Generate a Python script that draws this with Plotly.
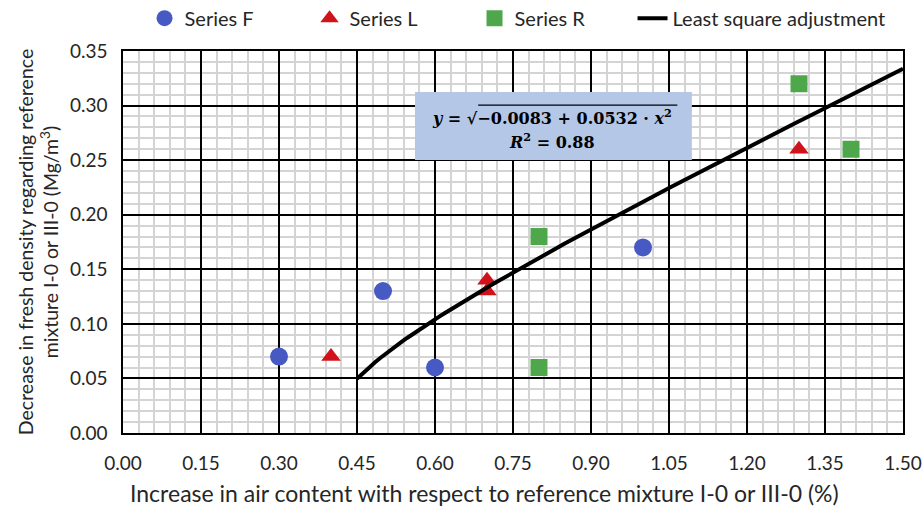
import numpy as np
import plotly.graph_objects as go

# Measured points
f_x = [0.30, 0.50, 0.60, 1.00]
f_y = [0.07, 0.13, 0.06, 0.17]
l_x = [0.40, 0.70, 0.70, 1.30]
l_y = [0.07, 0.14, 0.13, 0.26]
r_x = [0.80, 0.80, 1.30, 1.40]
r_y = [0.18, 0.06, 0.32, 0.26]

# Least-squares fit y = sqrt(a + b*x^2)
fit_a = -0.0083
fit_b = 0.0532
fit_r2 = 0.88
fit_x = np.linspace(0.45, 1.50, 120)
fit_y = np.sqrt(fit_a + fit_b * fit_x ** 2)

x_ticks = [0.00, 0.15, 0.30, 0.45, 0.60, 0.75, 0.90, 1.05, 1.20, 1.35, 1.50]
y_ticks = [0.00, 0.05, 0.10, 0.15, 0.20, 0.25, 0.30, 0.35]

FONT = "Lato"
TXT = "#262626"

fig = go.Figure()

fig.add_trace(go.Scatter(x=f_x, y=f_y, mode="markers", name="Series F", legendwidth=120,
                         marker=dict(symbol="circle", size=18, color="#4759c2")))
fig.add_trace(go.Scatter(x=l_x, y=l_y, mode="markers", name="Series L", legendwidth=120,
                         marker=dict(symbol="triangle-up", size=17, color="#d0121b")))
fig.add_trace(go.Scatter(x=r_x, y=r_y, mode="markers", name="Series R", legendwidth=113,
                         marker=dict(symbol="square", size=17, color="#4ea84b")))
fig.add_trace(go.Scatter(x=fit_x, y=fit_y, mode="lines", name="Least square adjustment",
                         legendwidth=220, line=dict(color="black", width=4)))

# Equation box
fig.add_shape(type="rect", x0=0.5615, x1=1.094, y0=0.2501, y1=0.3124,
              xref="x", yref="y", fillcolor="#b4c7e7", line=dict(width=0), layer="above")
fig.add_annotation(x=0.8245, y=0.2895, xref="x", yref="y", showarrow=False,
                   text=f"<b><i>y</i> = √−{abs(fit_a):.4f} + {fit_b:.4f} · <i>x</i><sup>2</sup></b>",
                   font=dict(family="DejaVu Serif", size=16, color="black"))
fig.add_annotation(x=0.8245, y=0.268, xref="x", yref="y", showarrow=False,
                   text=f"<b><i>R</i><sup>2</sup> = {fit_r2:.2f}</b>",
                   font=dict(family="DejaVu Serif", size=16, color="black"))
# radical bar
fig.add_shape(type="line", x0=0.683, x1=1.066, y0=0.3005, y1=0.3005,
              xref="x", yref="y", line=dict(color="black", width=1.2), layer="above")

# x-axis title, sitting slightly left of the plot centre
fig.add_annotation(x=0.4635, y=-60 / 382, xref="paper", yref="paper", showarrow=False,
                   xanchor="center", yanchor="middle",
                   text="Increase in air content with respect to reference mixture I-0 or III-0 (%)",
                   font=dict(family=FONT, size=23, color=TXT))

axis_common = dict(
    showgrid=True, gridcolor="black", gridwidth=1.5,
    showline=True, linecolor="black", linewidth=1.5, mirror=True,
    zeroline=False, automargin=False,
    ticks="outside", tickcolor="rgba(0,0,0,0)",
    tickfont=dict(family=FONT, size=19, color=TXT),
)

fig.update_xaxes(
    range=[0, 1.5], tickvals=x_ticks, ticktext=[f"{v:.2f}" for v in x_ticks], ticklen=12,
    minor=dict(dtick=0.03, tick0=0, showgrid=True, gridcolor="#d4d4d4", gridwidth=1.5,
               ticks=""),
    **axis_common,
)
fig.update_yaxes(
    range=[0, 0.35], tickvals=y_ticks, ticktext=[f"{v:.2f}" for v in y_ticks], ticklen=10,
    minor=dict(dtick=0.01, tick0=0, showgrid=True, gridcolor="#d4d4d4", gridwidth=1.5,
               ticks=""),
    title=dict(text="Decrease in fresh density regarding reference<br>mixture I-0 or III-0 (Mg/m<sup>3</sup>)",
               font=dict(family=FONT, size=19.5, color=TXT), standoff=6),
    **axis_common,
)

fig.update_layout(
    width=923, height=506,
    margin=dict(l=123, r=20, t=51, b=73, autoexpand=False),
    plot_bgcolor="white", paper_bgcolor="white",
    legend=dict(orientation="h", x=0.0276, y=1.086, xanchor="left", yanchor="middle",
                font=dict(family=FONT, size=20, color=TXT), itemwidth=30),
)

fig.write_html("out.html")
